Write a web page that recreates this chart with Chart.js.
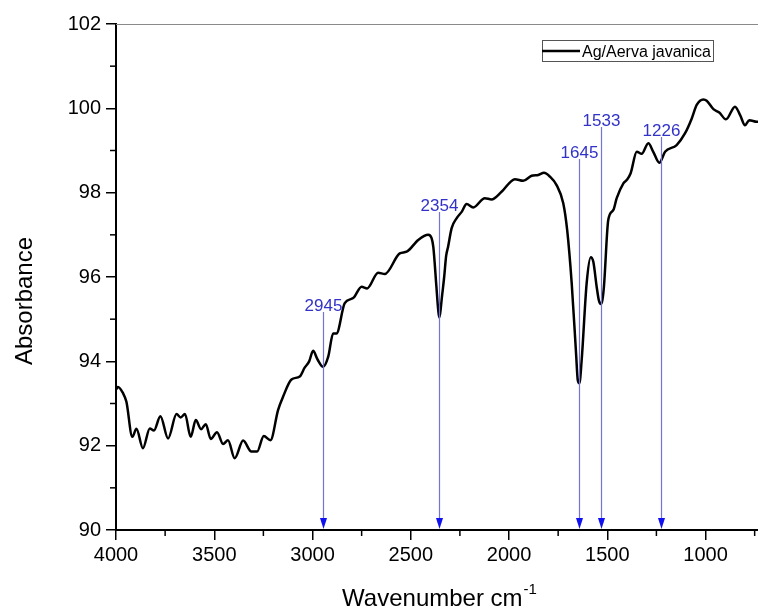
<!DOCTYPE html>
<html lang="en">
<head>
<meta charset="UTF-8">
<title>Ag/Aerva javanica FTIR</title>
<script src="https://cdn.jsdelivr.net/npm/chart.js"></script>
<style>
  html, body { margin: 0; padding: 0; background: #fff; }
  #wrap { width: 758px; height: 610px; }
</style>
</head>
<body>
<div id="wrap"><canvas id="ftir" width="758" height="610"></canvas></div>
<script>
// spectrum (wavenumber cm-1, absorbance)
var wavenumbers = [4000, 3990, 3965, 3947, 3917, 3896, 3863, 3828, 3807, 3774, 3735, 3692, 3671, 3649, 3620,
  3594, 3567, 3543, 3518, 3486, 3455, 3430, 3396, 3353, 3311, 3282, 3248, 3214, 3175, 3150, 3107, 3065,
  3040, 3017, 2997, 2975, 2946, 2920, 2895, 2878, 2836, 2793, 2750, 2722, 2666, 2632, 2556, 2521, 2462,
  2411, 2394, 2385, 2370, 2360, 2355, 2350, 2342, 2330, 2320, 2310, 2292, 2267, 2240, 2216, 2182, 2123,
  2089, 2038, 1970, 1928, 1885, 1851, 1822, 1792, 1758, 1724, 1704, 1681, 1659, 1650, 1642, 1630, 1605,
  1584, 1571, 1554, 1543, 1533, 1525, 1517, 1495, 1469, 1452, 1418, 1401, 1381, 1350, 1325, 1291, 1266,
  1235, 1206, 1147, 1104, 1070, 1045, 1011, 994, 960, 930, 896, 850, 824, 799, 777, 739, 733];
var absorbance = [93.33, 93.39, 93.25, 93.04, 92.21, 92.40, 91.94, 92.41, 92.36, 92.70, 92.17, 92.75, 92.67, 92.75, 92.21,
  92.61, 92.39, 92.51, 92.16, 92.32, 92.04, 92.13, 91.70, 92.12, 91.86, 91.86, 92.23, 92.13, 92.85, 93.16, 93.57, 93.64,
  93.85, 94.00, 94.25, 94.05, 93.87, 94.11, 94.66, 94.66, 95.38, 95.50, 95.77, 95.73, 96.10, 96.07, 96.56, 96.60, 96.88,
  97.00, 96.92, 96.70, 95.80, 95.20, 95.04, 95.15, 95.50, 96.00, 96.50, 96.72, 97.16, 97.39, 97.55, 97.73, 97.65, 97.87,
  97.84, 98.02, 98.32, 98.28, 98.40, 98.42, 98.47, 98.38, 98.18, 97.75, 97.11, 95.85, 94.20, 93.55, 93.48, 94.05, 95.85,
  96.47, 96.36, 95.77, 95.45, 95.36, 95.45, 95.77, 97.35, 97.59, 97.87, 98.22, 98.30, 98.46, 98.97, 98.92, 99.17, 98.97,
  98.71, 98.97, 99.13, 99.41, 99.76, 100.08, 100.21, 100.18, 99.98, 99.90, 99.74, 100.04, 99.84, 99.60, 99.72, 99.68, 99.68];

// marked peaks and the absorbance where each marker line starts
var peakLabels = ['2945', '2354', '1645', '1533', '1226'];
var peakPositions = [2945, 2354, 1645, 1533, 1226];
var peakLineTops = [95.17, 97.54, 98.8, 99.56, 99.32];

var xTicks = [4000, 3500, 3000, 2500, 2000, 1500, 1000];
var xMinorTicks = [3750, 3250, 2750, 2250, 1750, 1250, 750];
var yMinorTicks = [91, 93, 95, 97, 99, 101];

var FONT = '"Liberation Sans", Arial, sans-serif';

var points = wavenumbers.map(function (w, i) { return { x: w, y: absorbance[i] }; });

var extras = {
  id: 'extras',
  afterDraw: function (chart) {
    var c = chart.ctx, a = chart.chartArea;
    var xs = chart.scales.x, ys = chart.scales.y;
    c.save();

    // thin frame line on top
    c.strokeStyle = '#8a8a8a';
    c.lineWidth = 1;
    c.beginPath();
    c.moveTo(a.left, a.top + 0.5);
    c.lineTo(a.right, a.top + 0.5);
    c.stroke();

    // minor ticks
    c.strokeStyle = '#000';
    c.lineWidth = 1.5;
    xMinorTicks.forEach(function (v) {
      var px = xs.getPixelForValue(v);
      if (px < a.left || px > a.right) return;
      c.beginPath(); c.moveTo(px, a.bottom); c.lineTo(px, a.bottom + 6); c.stroke();
    });
    yMinorTicks.forEach(function (v) {
      var py = ys.getPixelForValue(v);
      c.beginPath(); c.moveTo(a.left, py); c.lineTo(a.left - 6, py); c.stroke();
    });

    // peak markers
    peakPositions.forEach(function (w, i) {
      var px = Math.round(xs.getPixelForValue(w)) + 0.5;
      var top = ys.getPixelForValue(peakLineTops[i]);
      c.strokeStyle = '#7474d6';
      c.lineWidth = 1.2;
      c.beginPath(); c.moveTo(px, top); c.lineTo(px, a.bottom - 6); c.stroke();
      c.fillStyle = '#1010f0';
      c.beginPath();
      c.moveTo(px - 3.5, a.bottom - 12);
      c.lineTo(px + 3.5, a.bottom - 12);
      c.lineTo(px, a.bottom - 1);
      c.closePath();
      c.fill();
      c.fillStyle = '#3232c8';
      c.font = '17px ' + FONT;
      c.textAlign = 'center';
      c.textBaseline = 'alphabetic';
      c.fillText(peakLabels[i], px, top - 1);
    });

    // legend
    c.strokeStyle = '#555';
    c.lineWidth = 1;
    c.strokeRect(542.5, 40.5, 171, 21);
    c.strokeStyle = '#000';
    c.lineWidth = 2.5;
    c.beginPath(); c.moveTo(542, 51); c.lineTo(580, 51); c.stroke();
    c.fillStyle = '#000';
    c.font = '16px ' + FONT;
    c.textAlign = 'left';
    c.textBaseline = 'alphabetic';
    c.fillText('Ag/Aerva javanica', 582, 57);

    // axis titles
    c.font = '24px ' + FONT;
    c.textAlign = 'left';
    var main = 'Wavenumber cm';
    var mw = c.measureText(main).width;
    c.font = '15px ' + FONT;
    var sw = c.measureText('-1').width;
    var sx = 439 - (mw + sw) / 2;
    c.font = '24px ' + FONT;
    c.fillText(main, sx, 606);
    c.font = '15px ' + FONT;
    c.fillText('-1', sx + mw + 1, 594);

    c.translate(32, 301);
    c.rotate(-Math.PI / 2);
    c.font = '24px ' + FONT;
    c.textAlign = 'center';
    c.fillText('Absorbance', 0, 0);
    c.restore();
  }
};

new Chart(document.getElementById('ftir').getContext('2d'), {
  type: 'line',
  data: {
    datasets: [{
      label: 'Ag/Aerva javanica',
      data: points,
      borderColor: '#000',
      borderWidth: 2.5,
      pointRadius: 0,
      fill: false,
      cubicInterpolationMode: 'monotone'
    }]
  },
  options: {
    responsive: false,
    animation: false,
    layout: { padding: { left: 0, top: 24, right: 0, bottom: 0 } },
    plugins: { legend: { display: false }, tooltip: { enabled: false } },
    scales: {
      x: {
        type: 'linear',
        reverse: true,
        min: 733,
        max: 4000,
        afterBuildTicks: function (s) { s.ticks = xTicks.map(function (v) { return { value: v }; }); },
        afterFit: function (s) { s.height = 80; },
        grid: { drawOnChartArea: false, drawTicks: true, tickLength: 10, color: '#000', lineWidth: 1.5 },
        border: { display: true, color: '#000', width: 2 },
        ticks: {
          color: '#000', font: { family: FONT, size: 20 }, padding: 3, maxRotation: 0, autoSkip: false,
          callback: function (v) { return String(v); }
        }
      },
      y: {
        min: 90,
        max: 102,
        ticks: { stepSize: 2, color: '#000', font: { family: FONT, size: 20 }, padding: 5 },
        afterFit: function (s) { s.width = 116; },
        grid: { drawOnChartArea: false, drawTicks: true, tickLength: 10, color: '#000', lineWidth: 1.5 },
        border: { display: true, color: '#000', width: 2 }
      }
    }
  },
  plugins: [extras]
});
</script>
</body>
</html>
